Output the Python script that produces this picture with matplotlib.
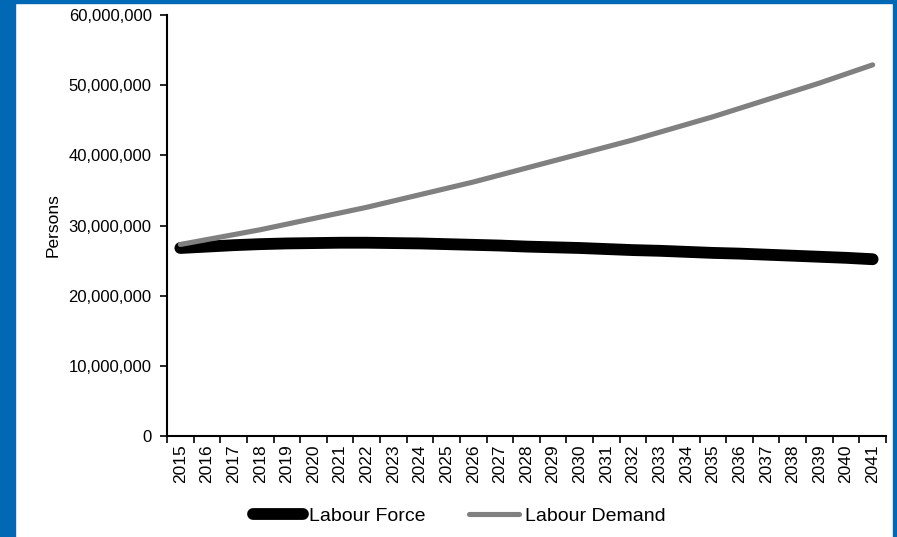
import matplotlib
matplotlib.use('Agg')
import matplotlib.pyplot as plt
from matplotlib.patches import Rectangle
from matplotlib.ticker import FuncFormatter, MultipleLocator
import numpy as np

plt.rcParams['font.family'] = ['Liberation Sans', 'DejaVu Sans']

years = list(range(2015, 2042))

# millions of persons
labour_force = [26.8, 27.0, 27.2, 27.35, 27.45, 27.5, 27.55, 27.55, 27.5, 27.45,
                27.35, 27.25, 27.15, 27.0, 26.9, 26.8, 26.65, 26.5, 26.4, 26.25,
                26.1, 26.0, 25.85, 25.7, 25.55, 25.4, 25.2]
labour_demand = [27.3, 28.0, 28.7, 29.4, 30.2, 31.0, 31.8, 32.6, 33.5, 34.4,
                 35.3, 36.2, 37.2, 38.2, 39.2, 40.2, 41.2, 42.2, 43.3, 44.4,
                 45.5, 46.7, 47.9, 49.1, 50.3, 51.6, 52.9]

fig = plt.figure(figsize=(8.97, 5.37), dpi=100)
ax = fig.add_axes([0.1862, 0.188, 0.8015, 0.784])

x = np.arange(len(years))
lf = np.array(labour_force) * 1e6
ld = np.array(labour_demand) * 1e6

ax.plot(x, lf, color='black', lw=8.5, solid_capstyle='round', label='Labour Force')
ax.plot(x, ld, color='#808080', lw=3.7, solid_capstyle='round', label='Labour Demand')

ax.set_xlim(-0.5, len(years) - 0.5)
ax.set_ylim(0, 60e6)
ax.yaxis.set_major_locator(MultipleLocator(10e6))
ax.yaxis.set_major_formatter(FuncFormatter(lambda v, p: f'{int(v):,}'))

ax.set_xticks(x)
ax.set_xticklabels([str(y) for y in years], rotation=90, fontsize=12.5)
ax.set_xticks(np.arange(-0.5, len(years)), minor=True)
ax.tick_params(axis='x', which='major', length=0, pad=6)
ax.tick_params(axis='x', which='minor', length=5, width=1.2, direction='out', color='black')
ax.tick_params(axis='y', labelsize=12, length=5, width=1.2, direction='out', pad=6)

for s in ['top', 'right']:
    ax.spines[s].set_visible(False)
for s in ['left', 'bottom']:
    ax.spines[s].set_linewidth(1.5)
    ax.spines[s].set_color('black')

ax.set_ylabel('Persons', fontsize=12.5, labelpad=6)

fig.legend(loc='center', bbox_to_anchor=(0.512, 0.039), ncol=2, frameon=False,
           fontsize=14, handlelength=2.6, handletextpad=0.3, columnspacing=2.2)

# blue frame around the slide
fig.patches.append(Rectangle((0, 0), 15 / 897, 1, transform=fig.transFigure,
                             color='#0068B5', zorder=-1))
fig.patches.append(Rectangle((0, 1 - 3 / 537), 1, 3 / 537, transform=fig.transFigure,
                             color='#0068B5', zorder=-1))
fig.patches.append(Rectangle((1 - 4 / 897, 0), 4 / 897, 1, transform=fig.transFigure,
                             color='#0068B5', zorder=-1))

fig.savefig('out.png', dpi=100)
